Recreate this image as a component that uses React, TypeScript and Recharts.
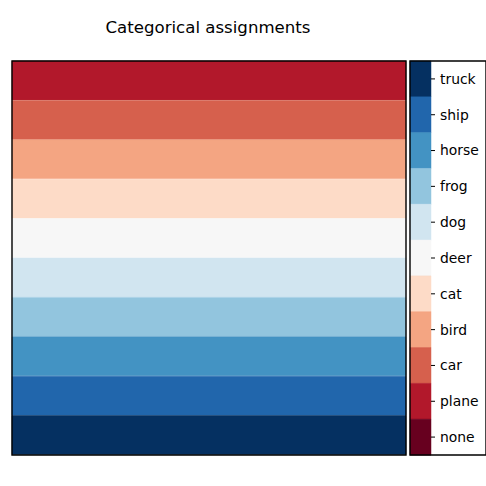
import React from 'react';
import { BarChart, Bar, XAxis, YAxis, Cell, ReferenceArea } from 'recharts';

const categories = ['none', 'plane', 'car', 'bird', 'cat', 'deer', 'dog', 'frog', 'horse', 'ship', 'truck'];
const categoryColors = ['#67001f', '#b2182b', '#d6604d', '#f4a582', '#fddbc7', '#f7f7f7', '#d1e5f0', '#92c5de', '#4393c3', '#2166ac', '#053061'];
// assigned category index per image row (top to bottom)
const rowAssignments = [1, 2, 3, 4, 5, 6, 7, 8, 9, 10];
const title = 'Categorical assignments';

const FONT = '"DejaVu Sans", sans-serif';

const mainData = rowAssignments.map((a, i) => ({ row: `r${i}`, label: categories[a], value: 1, color: categoryColors[a] }));
const barData = categories
  .map((c, i) => ({ name: c, value: 1, color: categoryColors[i] }))
  .reverse();

const mainMargin = { left: 12, right: 80, top: 61, bottom: 31 };
const barMargin = { left: 410, right: 0, top: 61, bottom: 31 };

const overlay: React.CSSProperties = { position: 'absolute', left: 0, top: 0 };

export default function App() {
  return (
    <div style={{ position: 'absolute', left: 0, top: 0, width: 486, height: 486, background: '#fff', fontFamily: FONT }}>
      <div style={{ position: 'absolute', left: 0, top: 18, width: 416, textAlign: 'center', fontSize: 16.6, color: '#000', fontFamily: FONT, lineHeight: '20px' }}>
        {title}
      </div>
      <div style={overlay}>
        <BarChart width={486} height={486} data={mainData} layout="vertical" barCategoryGap={0} margin={mainMargin}>
          <XAxis type="number" domain={[0, 1]} hide />
          <YAxis type="category" dataKey="row" hide />
          <Bar dataKey="value" isAnimationActive={false}>
            {mainData.map((d, i) => (
              <Cell key={i} fill={d.color} stroke={d.color} strokeWidth={0.5} />
            ))}
          </Bar>
        </BarChart>
      </div>
      <div style={overlay}>
        <BarChart width={486} height={486} data={mainData} layout="vertical" barCategoryGap={0} margin={mainMargin}>
          <XAxis type="number" domain={[0, 1]} hide />
          <YAxis type="category" dataKey="row" hide />
          <Bar dataKey="value" fill="none" fillOpacity={0} isAnimationActive={false} />
          <ReferenceArea x1={0} x2={1} y1="r0" y2="r9" fill="none" stroke="#000" strokeWidth={1.4} strokeOpacity={1} fillOpacity={0} ifOverflow="visible" />
        </BarChart>
      </div>
      <div style={overlay}>
        <BarChart width={486} height={486} data={barData} layout="vertical" barCategoryGap={0} margin={barMargin}>
          <XAxis type="number" domain={[0, 1]} hide />
          <YAxis
            type="category"
            dataKey="name"
            orientation="right"
            width={55}
            axisLine={false}
            tickLine={{ stroke: '#000', strokeWidth: 1 }}
            tickSize={4}
            tickMargin={5}
            interval={0}
            tick={{ fill: '#000', fontSize: 13.9, fontFamily: FONT }}
          />
          <Bar dataKey="value" isAnimationActive={false}>
            {barData.map((d, i) => (
              <Cell key={i} fill={d.color} stroke={d.color} strokeWidth={0.5} />
            ))}
          </Bar>
        </BarChart>
      </div>
      <div style={overlay}>
        <BarChart width={486} height={486} data={barData} layout="vertical" barCategoryGap={0} margin={barMargin}>
          <XAxis type="number" domain={[0, 1]} hide />
          <YAxis type="category" dataKey="name" orientation="right" width={55} hide />
          <Bar dataKey="value" fill="none" fillOpacity={0} isAnimationActive={false} />
          <ReferenceArea x1={0} x2={1} y1="truck" y2="none" fill="none" stroke="#000" strokeWidth={1.4} strokeOpacity={1} fillOpacity={0} ifOverflow="visible" />
        </BarChart>
      </div>
    </div>
  );
}
